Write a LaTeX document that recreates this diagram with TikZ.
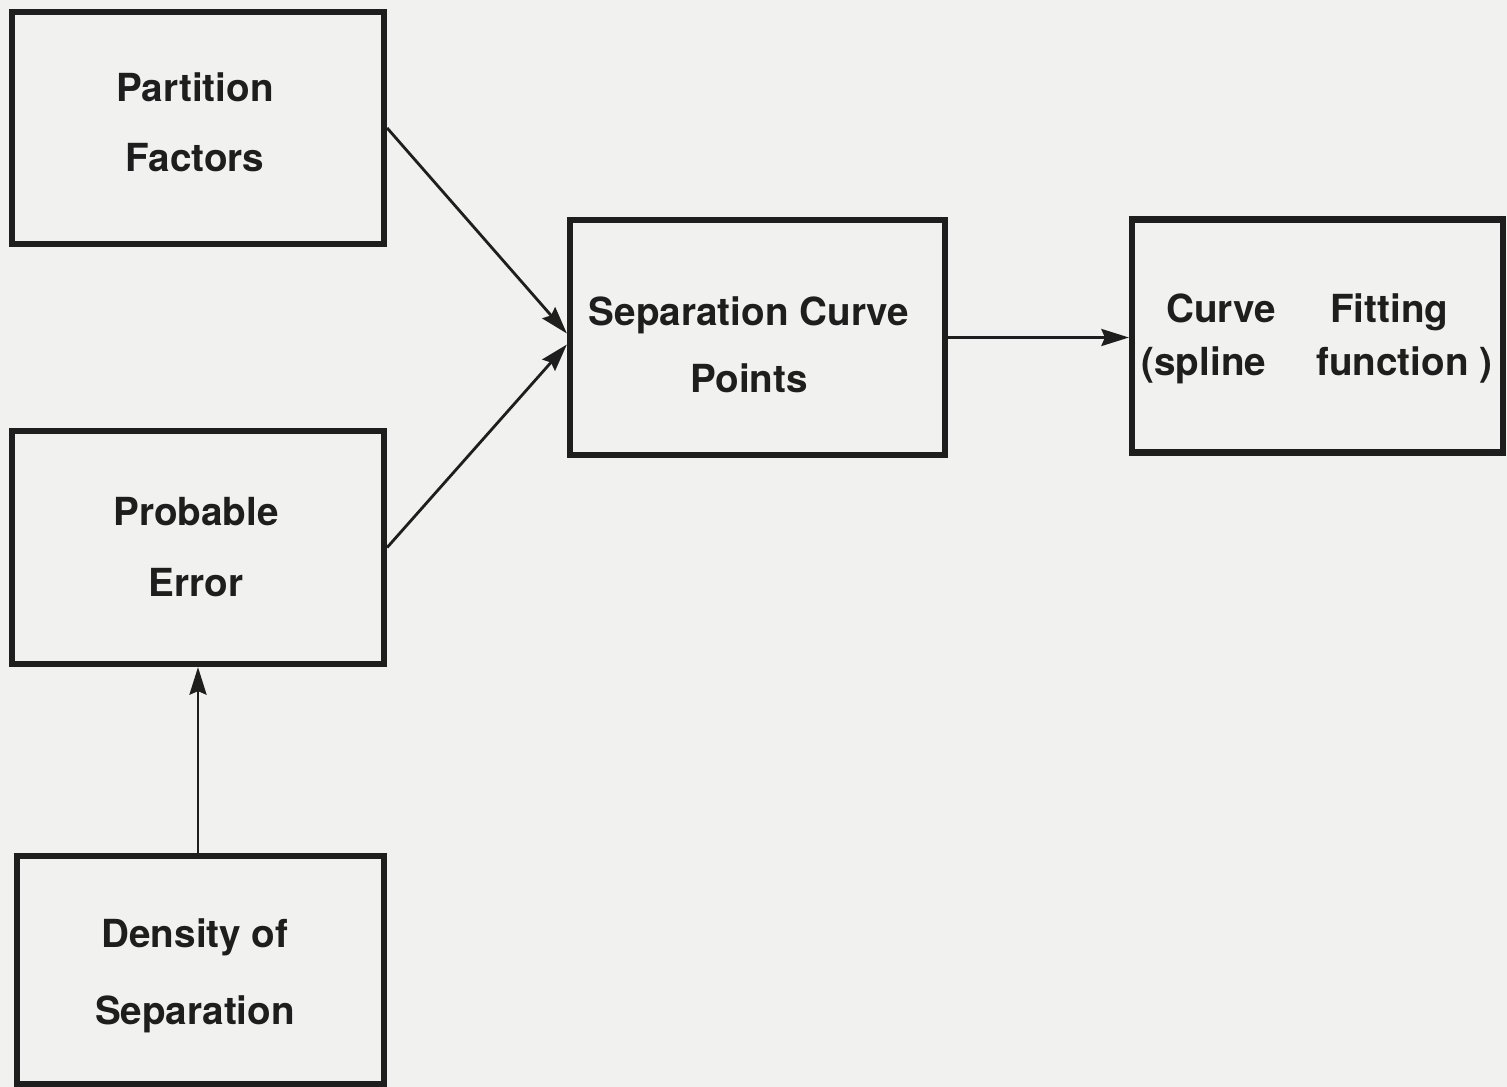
\documentclass[tikz,border=0pt]{standalone}
\usepackage{fontspec}
\setmainfont{TeX Gyre Heros}
\usetikzlibrary{arrows.meta,calc}
\definecolor{paper}{RGB}{241,241,240}
\definecolor{ink}{RGB}{30,30,30}
\begin{document}
\begin{tikzpicture}[x=0.02cm,y=-0.02cm,
  blockbox/.style={draw=ink,line width=3.6pt,fill=paper,inner sep=0pt},
  blocktext/.style={text=ink,align=center,inner sep=0pt,
    font=\fontsize{22}{40}\selectfont\bfseries},
  flow/.style={draw=ink,line width=1.6pt,-{Stealth[length=0.55cm,width=0.34cm,inset=0.07cm]}}]
\fill[paper] (0,0) rectangle (1507,1087);
\useasboundingbox (0,0) rectangle (1507,1087);
% boxes
\node[blockbox,minimum width=7.44cm,minimum height=4.63cm] (pf) at (198,128) {};
\node[blockbox,minimum width=7.44cm,minimum height=4.66cm] (pe) at (198,547.5) {};
\node[blockbox,minimum width=7.34cm,minimum height=4.56cm] (ds) at (200.5,970) {};
\node[blockbox,minimum width=7.5cm,minimum height=4.7cm] (sc) at (757.5,337.5) {};
\node[blockbox,minimum width=7.42cm,minimum height=4.66cm] (cf) at (1317.5,336) {};
% texts
\node[blocktext] (pfT) at (195,122) {Partition\\Factors};
\node[blocktext] (peT) at (196,547) {Probable\\Error};
\node[blocktext,font=\fontsize{22}{43.5}\selectfont\bfseries] (dsT) at (195,976) {Density of\\Separation};
\node[blocktext,font=\fontsize{22}{38}\selectfont\bfseries] (scT) at (749,344.5) {Separation Curve\\Points};
\node[blocktext,font=\fontsize{22}{30}\selectfont\bfseries] (cfT) at (1317,338.5) {Curve\hspace{1.4em}Fitting\kern0.5em\\(spline\hspace{1.3em}function )};
% connectors
\coordinate (inA) at ($(sc.west)+(0,-4)$);
\coordinate (inB) at ($(sc.west)+(0,7)$);
\draw[flow] (pf.east) -- (inA);
\draw[flow] (pe.east) -- (inB);
\draw[flow] (sc.east) -- (sc.east -| cf.west);
\draw[flow] (pe.south |- ds.north) -- (pe.south);
\end{tikzpicture}
\end{document}
